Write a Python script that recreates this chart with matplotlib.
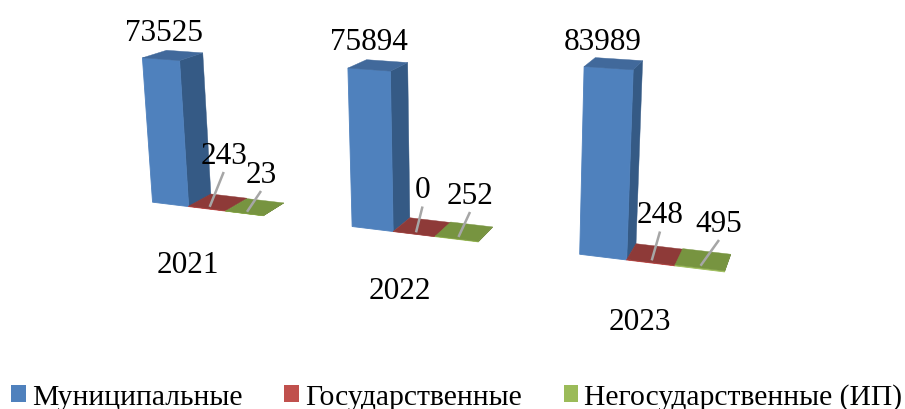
import numpy as np
import matplotlib
matplotlib.use('Agg')
import matplotlib.pyplot as plt
from matplotlib.patches import Patch

# ---- data ----
years = ['2021', '2022', '2023']
series = ['Муниципальные', 'Государственные', 'Негосударственные (ИП)']
municipal = [73525, 75894, 83989]
state = [243, 0, 248]
private = [23, 252, 495]

# ---- style / layout ----
front = ['#4F81BD', '#C0504D', '#9BBB59']
side = ['#355A85', '#7F3533', '#6A8039']
top = ['#41699B', '#8E3A38', '#779440']
LEADER = '#A6A6A6'
SERIF = 'Liberation Serif'
GROUP_STEP = 5.25      # spacing of the categories along the floor
Z_UNIT = 1e4           # value units per unit of height
# perspective camera of the 3D chart: (along, depth, height, 1) -> figure pixels
CAMERA = np.array([
    [3.38944959e+01, 2.88655453e+01, -1.97038838e+00, 1.52546547e+02],
    [1.97057944e+00, -5.63432995e+00, -1.98824642e+01, 2.03196500e+02],
    [-1.17040204e-02, 3.26771264e-02, -4.16580000e-03, 1.00000000e+00]])
value_pos = {(0, 0): (164, 30), (0, 1): (223.7, 153), (0, 2): (261, 172),
             (1, 0): (369, 39), (1, 1): (422.5, 187.5), (1, 2): (470, 193),
             (2, 0): (602.5, 39), (2, 1): (660, 212.5), (2, 2): (719, 221)}
year_pos = [(188, 262), (399.5, 288), (640, 319)]


def project(u, d, v):
    h = CAMERA @ np.array([u, d, v / Z_UNIT, 1.0])
    return h[0] / h[2], h[1] / h[2]


fig = plt.figure(figsize=(9.05, 4.10), dpi=100)
ax = fig.add_axes([0, 0, 1, 1])
ax.set_xlim(0, 905)
ax.set_ylim(410, 0)
ax.axis('off')

values = [municipal, state, private]
for i, year in enumerate(years):
    for j in range(3):
        v = values[j][i]
        u0 = i * GROUP_STEP + j
        u1 = u0 + 1
        ax.fill(*zip(project(u1, 0, 0), project(u1, 1, 0), project(u1, 1, v), project(u1, 0, v)),
                fc=side[j], ec=side[j], lw=0.3, zorder=2 + j)
        ax.fill(*zip(project(u0, 0, 0), project(u1, 0, 0), project(u1, 0, v), project(u0, 0, v)),
                fc=front[j], ec=front[j], lw=0.6, zorder=2 + j)
        ax.fill(*zip(project(u0, 0, v), project(u1, 0, v), project(u1, 1, v), project(u0, 1, v)),
                fc=top[j], ec=top[j], lw=0.3, zorder=2 + j)
        tx, ty = value_pos[(i, j)]
        ax.text(tx, ty, f'{v}', family=SERIF, fontsize=22.5, color='black',
                ha='center', va='center_baseline', zorder=8)
        if j > 0:
            sx, sy = project(u0 + 0.5, 0.12, v)
            ax.plot([sx, tx], [sy, ty + 20], color=LEADER, lw=1.8,
                    solid_capstyle='butt', zorder=7)
    ax.text(*year_pos[i], year, family=SERIF, fontsize=22.5, color='black',
            ha='center', va='center_baseline')

leg = ax.legend(handles=[Patch(fc=c, ec='none', label=s) for c, s in zip(front, series)],
                loc='lower left', bbox_to_anchor=(11 / 905, -1 / 410), ncol=3, frameon=False,
                prop={'family': SERIF, 'size': 21.3}, handlelength=0.5, handleheight=0.5,
                handletextpad=0.2, columnspacing=1.42, borderaxespad=0, borderpad=0.0)
fig.savefig('out.png', dpi=100)
